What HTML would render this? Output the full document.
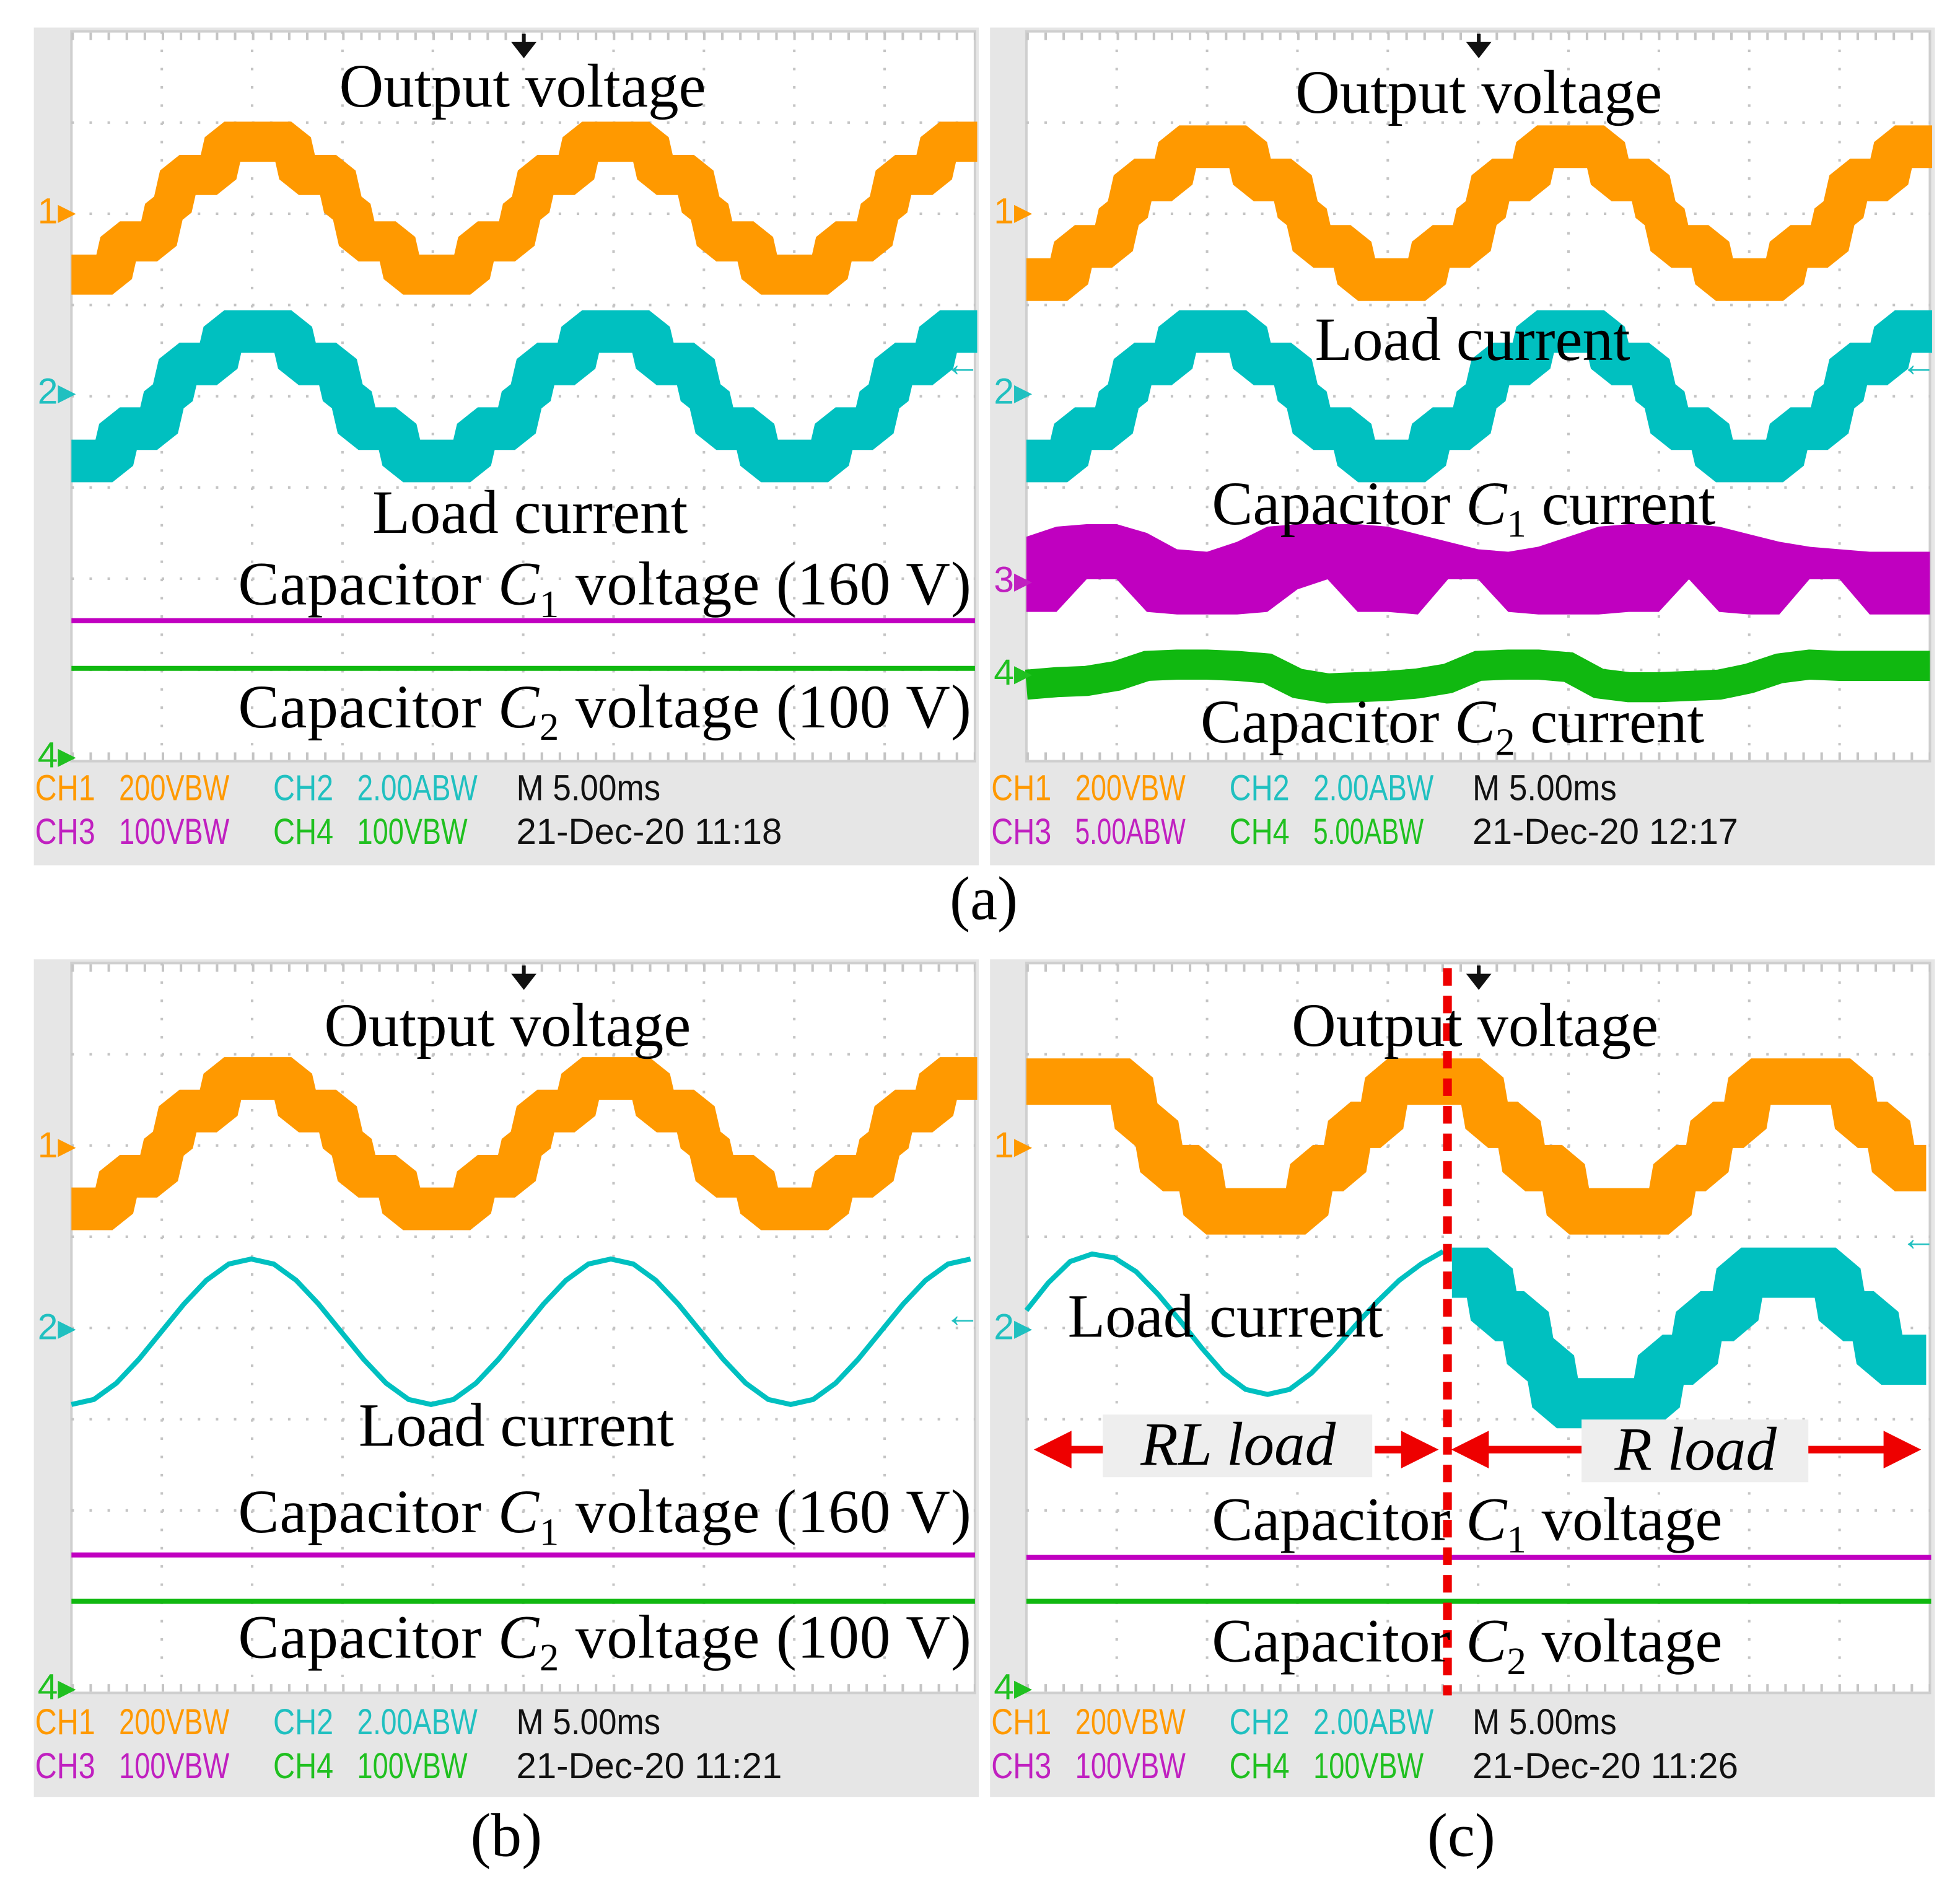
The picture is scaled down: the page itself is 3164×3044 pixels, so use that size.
<!DOCTYPE html>
<html><head><meta charset="utf-8"><style>
html,body{margin:0;padding:0;background:#fff}
svg{display:block}
.t{font-family:"Liberation Serif",serif;font-size:49px;fill:#000}
.i{font-family:"Liberation Sans",sans-serif;font-size:29px}
</style></head><body>
<svg id="fig" width="3164" height="3044" viewBox="0 0 1564 1504" preserveAspectRatio="none" xmlns="http://www.w3.org/2000/svg">
<g id="layer"></g>
</svg>
<script>
// ---- data (time axis in divisions 0..10; levels in step units) ----
const aOrangeLevels=[-2,-2,-2,-1,-1,-1,0,1,1,1,2,2,2,2,2,1,1,1,0,-1,-1,-1,-2,-2,-2,-2,-2,-1,-1,-1,0,1,1,1,2,2,2,2,2,1,1,1,0,-1,-1,-1,-2,-2,-2,-2,-2,-1,-1,-1,0,1,1,1,2,2,2];
const aCyanLevels=[-2,-2,-2,-1,-1,-1,0,1,1,1,2,2,2,2,2,1,1,1,0,-1,-1,-1,-2,-2,-2,-2,-2,-1,-1,-1,0,1,1,1,2,2,2,2,2,1,1,1,0,-1,-1,-1,-2,-2,-2,-2,-2,-1,-1,-1,0,1,1,1,2,2,2];
const bOrangeLevels=[-2,-2,-2,-1,-1,-1,0,1,1,1,2,2,2,2,2,1,1,1,0,-1,-1,-1,-2,-2,-2,-2,-2,-1,-1,-1,0,1,1,1,2,2,2,2,2,1,1,1,0,-1,-1,-1,-2,-2,-2,-2,-2,-1,-1,-1,0,1,1,1,2,2,2];
const bCyanSine=[1120,1116,1103,1084,1062,1040,1021,1008,1004,1008,1021,1040,1062,1084,1103,1116,1120,1116,1103,1084,1062,1040,1021,1008,1004,1008,1021,1040,1062,1084,1103,1116,1120,1116,1103,1084,1062,1040,1021,1008,1004];
const mag3Top=[428,420,418,418,425,438,440,432,420,418,418,418,420,426,432,438,440,436,428,420,418,418,418,420,426,432,436,438,440,440,440];
const mag3Bot=[488,488,462,462,488,490,490,490,488,470,462,488,488,490,462,462,488,490,490,490,488,488,462,488,490,490,462,462,490,490,490];
const grn4Top=[535,533,532,528,520,519,519,520,522,534,538,537,536,534,530,520,519,519,521,534,537,537,536,535,530,522,519,520,520,520,520];
const cOrangeEdges=[0,1.19,1.47,1.95,3.13,3.55,3.96,5.07,5.48,5.97,7.15,7.56,7.98,9.16,9.57,10];
const cOrangeLevels=[3,2,1,0,1,2,3,2,1,0,1,2,3,2,1];
const cCyanSine=[1045,1023,1006,1000,1003,1014,1032,1053,1075,1095,1108,1112,1108,1095,1077,1057,1038,1021,1008,998];
const cCyanEdges=[4.71,5.15,5.55,5.83,7.0,7.42,7.87,9.0,9.42,10];
const cCyanLevels=[3,2,1,0,1,2,3,2,1];

const NS="http://www.w3.org/2000/svg";
const L=document.getElementById('layer');
function mk(tag,attrs,parent){const e=document.createElementNS(NS,tag);for(const k in attrs)e.setAttribute(k,attrs[k]);(parent||L).appendChild(e);return e;}
function txt(x,y,s,cls,extra,parent){const e=mk('text',Object.assign({x:x,y:y,class:cls},extra||{}),parent);e.textContent=s;return e;}

const panels=[{x:27,y:22,gx:57,gy:25},{x:790,y:22,gx:819,gy:25},{x:27,y:765,gx:57,gy:768},{x:790,y:765,gx:819,gy:768}];
const GW=721,GH=582;
function xOf(p,d){return p.gx+d*GW/10;}

panels.forEach((p,k)=>{
  const g=mk('g',{});
  
  
  mk('rect',{x:p.x,y:p.y,width:754,height:668,fill:'#e6e6e6'},g);
  mk('rect',{x:p.gx,y:p.gy,width:GW,height:GH,fill:'#fff',stroke:'#cfcfcf','stroke-width':2},g);
  for(let i=1;i<10;i++){mk('line',{x1:xOf(p,i),y1:p.gy,x2:xOf(p,i),y2:p.gy+GH,stroke:'#c4c4c4','stroke-width':2,'stroke-dasharray':'2 12.55'},g);}
  for(let j=1;j<8;j++){const y=p.gy+j*GH/8;mk('line',{x1:p.gx,y1:y,x2:p.gx+GW,y2:y,stroke:'#c4c4c4','stroke-width':2,'stroke-dasharray':'2 12.4'},g);}
  mk('line',{x1:p.gx,y1:p.gy+4,x2:p.gx+GW,y2:p.gy+4,stroke:'#c4c4c4','stroke-width':6,'stroke-dasharray':'2 12.4'},g);
  mk('line',{x1:p.gx,y1:p.gy+GH-4,x2:p.gx+GW,y2:p.gy+GH-4,stroke:'#c4c4c4','stroke-width':6,'stroke-dasharray':'2 12.4'},g);
  mk('path',{d:`M${p.gx+361},${p.gy+2}L${p.gx+361},${p.gy+12}M${p.gx+354},${p.gy+10}L${p.gx+361},${p.gy+19}L${p.gx+368},${p.gy+10}Z`,stroke:'#111','stroke-width':3,fill:'#111'},g);
});

function stairs(levels,x0,dx,yc,sp,w,color,name){
  let d='';levels.forEach((v,i)=>{const xa=x0+i*dx,xb=xa+dx,y=yc-v*sp;d+=(i?'L':'M')+(xa+ (i?3:0))+','+y+'L'+(xb-3)+','+y;});
  const e=mk('path',{d:d,fill:'none',stroke:color,'stroke-width':w,'stroke-linejoin':'bevel'});
  
  
}
function stairsEdges(p,edges,levels,yc,sp,w,color,name){
  let d='';levels.forEach((v,i)=>{const xa=xOf(p,edges[i]),xb=xOf(p,edges[i+1]),y=yc-v*sp;d+=(i?'L':'M')+(xa+(i?3:0))+','+y+'L'+(xb-3)+','+y;});
  const e=mk('path',{d:d,fill:'none',stroke:color,'stroke-width':w,'stroke-linejoin':'bevel'});
  
  
}
function line(xs,ys,color,w,name){
  const e=mk('polyline',{points:xs.map((x,i)=>x+','+ys[i]).join(' '),fill:'none',stroke:color,'stroke-width':w});
  
  
}
const OR='#ff9900',CY='#00c0c0',MG='#c000c0',GR='#10b810';
const dxS=GW/60.6;
stairs(aOrangeLevels,57,dxS,166,26.5,32,OR,'output-voltage-trace-a1');
stairs(aCyanLevels,57,dxS,316,25.8,34,CY,'load-current-trace-a1');
line([57,778],[495,495],MG,4,'capacitor-c1-voltage-trace-a1');
line([57,778],[533,533],GR,4,'capacitor-c2-voltage-trace-a1');
stairs(aOrangeLevels,819,dxS,170,26.5,34,OR,'output-voltage-trace-a2');
stairs(aCyanLevels,819,dxS,316,25.8,34,CY,'load-current-trace-a2');
{const dx=GW/30;const pts=mag3Top.map((y,i)=>(819+i*dx)+','+y).concat(mag3Bot.map((y,i)=>(819+i*dx)+','+y).reverse());
 const e=mk('polygon',{points:pts.join(' '),fill:MG});
 
 
 let d='';grn4Top.forEach((y,i)=>{d+=(i?'L':'M')+(819+i*dx)+','+(y+11);});
 const g2=mk('path',{d:d,fill:'none',stroke:GR,'stroke-width':24});
 
 }
stairs(bOrangeLevels,57,dxS,912,26,34,OR,'output-voltage-trace-b');
line(bCyanSine.map((v,i)=>57+i*GW/40.2),bCyanSine,CY,4,'load-current-trace-b');
line([57,778],[1240,1240],MG,4,'capacitor-c1-voltage-trace-b');
line([57,778],[1277,1277],GR,4,'capacitor-c2-voltage-trace-b');
const pc=panels[3];
stairsEdges(pc,cOrangeEdges,cOrangeLevels,966,34.5,37,OR,'output-voltage-trace-c');
line(cCyanSine.map((v,i)=>819+i*17.5),cCyanSine,CY,4,'load-current-rl-trace-c');
stairsEdges(pc,cCyanEdges,cCyanLevels,1119,34.7,40,CY,'load-current-r-trace-c');
line([819,1541],[1242,1242],MG,4,'capacitor-c1-voltage-trace-c');
line([819,1541],[1277,1277],GR,4,'capacitor-c2-voltage-trace-c');
</script>
<script>
(function(){
const NS="http://www.w3.org/2000/svg",L=document.getElementById('layer');
function mk(tag,attrs){const e=document.createElementNS(NS,tag);for(const k in attrs)e.setAttribute(k,attrs[k]);L.appendChild(e);return e;}
function T(x,y,s,anchor,name,extra){const e=mk('text',Object.assign({x:x,y:y,class:'t','text-anchor':anchor||'start'},extra||{}));e.innerHTML=s;
 
 return e;}
const C1='Capacitor <tspan font-style="italic">C</tspan><tspan font-size="31" dy="10">1</tspan><tspan dy="-10"> voltage</tspan>';
const C2='Capacitor <tspan font-style="italic">C</tspan><tspan font-size="31" dy="10">2</tspan><tspan dy="-10"> voltage</tspan>';
const rd=mk('line',{x1:1155,y1:772,x2:1155,y2:1352,stroke:'#ee0000','stroke-width':7,'stroke-dasharray':'14 8'});


mk('rect',{x:880,y:1128,width:215,height:50,fill:'#eeeeee'});
mk('rect',{x:1262,y:1132,width:181,height:50,fill:'#eeeeee'});
function arrow(x1,x2,y,name){const dir=Math.sign(x2-x1);
 const g=mk('path',{d:`M${x1},${y-3}L${x2-dir*30},${y-3}L${x2-dir*30},${y-15}L${x2},${y}L${x2-dir*30},${y+15}L${x2-dir*30},${y+3}L${x1},${y+3}Z`,fill:'#ee0000'});
 }
arrow(880,825,1156,'rl-load-arrow-left');arrow(1097,1148,1156,'rl-load-arrow-right');
arrow(1262,1158,1156,'r-load-arrow-left');arrow(1443,1533,1156,'r-load-arrow-right');
T(988,1168,'RL load','middle','rl-load-label',{'font-style':'italic','font-size':'50'});
T(1353,1172,'R load','middle','r-load-label',{'font-style':'italic','font-size':'50'});
T(417,85,'Output voltage','middle','output-voltage-label-a1');
T(423,425,'Load current','middle','load-current-label-a1');
T(190,482,C1+'  (160 V)','start','c1-voltage-label-a1',{textLength:585});
T(190,580,C2+'  (100 V)','start','c2-voltage-label-a1',{textLength:585});
T(1180,90,'Output voltage','middle','output-voltage-label-a2');
T(1175,287,'Load current','middle','load-current-label-a2');
T(967,418,'Capacitor <tspan font-style="italic">C</tspan><tspan font-size="31" dy="10">1</tspan><tspan dy="-10"> current</tspan>','start','c1-current-label');
T(958,592,'Capacitor <tspan font-style="italic">C</tspan><tspan font-size="31" dy="10">2</tspan><tspan dy="-10"> current</tspan>','start','c2-current-label');
T(405,834,'Output voltage','middle','output-voltage-label-b');
T(412,1153,'Load current','middle','load-current-label-b');
T(190,1222,C1+'  (160 V)','start','c1-voltage-label-b',{textLength:585});
T(190,1322,C2+'  (100 V)','start','c2-voltage-label-b',{textLength:585});
T(1177,834,'Output voltage','middle','output-voltage-label-c');
T(852,1066,'Load current','start','load-current-label-c');
T(967,1228,C1,'start','c1-voltage-label-c');
T(967,1325,C2,'start','c2-voltage-label-c');
T(785,733,'(a)','middle','caption-a');
T(404,1480,'(b)','middle','caption-b');
T(1166,1480,'(c)','middle','caption-c');
const info=[{ox:0,oy:0,c3:'100V',c4:'100V',d:'21-Dec-20 11:18'},{ox:763,oy:0,c3:'5.00A',c4:'5.00A',d:'21-Dec-20 12:17'},{ox:0,oy:745,c3:'100V',c4:'100V',d:'21-Dec-20 11:21'},{ox:763,oy:745,c3:'100V',c4:'100V',d:'21-Dec-20 11:26'}];
function I(x,y,s,col,w,name){const e=mk('text',{x:x,y:y,class:'i',fill:col,textLength:w,lengthAdjust:'spacingAndGlyphs'});e.textContent=s;
 }
info.forEach((r,k)=>{const x=27+r.ox,y1=638+r.oy,y2=673+r.oy;
 I(x+1,y1,'CH1','#ff9900',48,'ch1-label');I(x+68,y1,'200VBW','#ff9900',88,'ch1-scale');
 I(x+191,y1,'CH2','#20c0c0',48,'ch2-label');I(x+258,y1,'2.00ABW','#20c0c0',96,'ch2-scale');
 I(x+385,y1,'M 5.00ms','#111',115,'timebase');
 I(x+1,y2,'CH3','#c020c0',48,'ch3-label');I(x+68,y2,r.c3+'BW','#c020c0',88,'ch3-scale');
 I(x+191,y2,'CH4','#20c020',48,'ch4-label');I(x+258,y2,r.c4+'BW','#20c020',88,'ch4-scale');
 I(x+385,y2,r.d,'#111',212,'timestamp');
});
const mk2=[[30,178,'1','#ff9900'],[30,322,'2','#20c0c0'],[30,612,'4','#20c020'],[793,178,'1','#ff9900'],[793,322,'2','#20c0c0'],[793,472,'3','#c020c0'],[793,546,'4','#20c020'],[30,923,'1','#ff9900'],[30,1068,'2','#20c0c0'],[30,1355,'4','#20c020'],[793,923,'1','#ff9900'],[793,1068,'2','#20c0c0'],[793,1355,'4','#20c020']];
mk2.forEach(m=>{const e=mk('text',{x:m[0],y:m[1],class:'i',fill:m[3],'font-size':'24'});e.textContent=m[2]+'▸';
 });
[[768,300],[1531,300],[768,1058],[1531,997]].forEach(a=>{const e=mk('text',{x:a[0],y:a[1],class:'i',fill:'#20c0c0','font-size':'28','text-anchor':'middle','font-weight':'bold'});e.textContent='←';
 });
})();
</script>
</body></html>
